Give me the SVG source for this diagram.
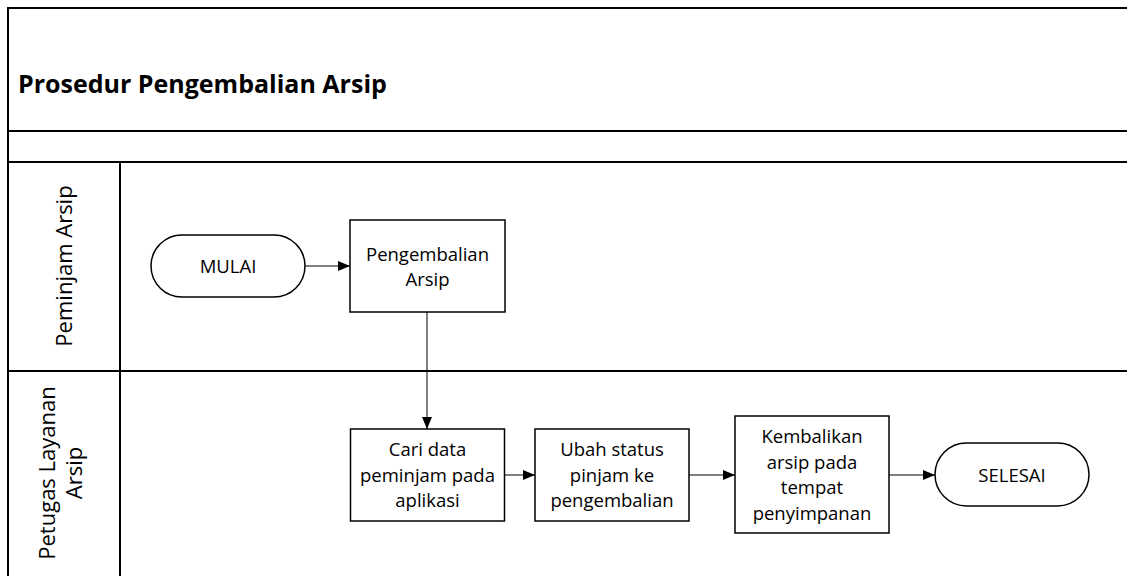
<svg xmlns="http://www.w3.org/2000/svg" width="1127" height="576" viewBox="0 0 1127 576">
<style>
.frame{stroke:#000;stroke-width:2;fill:none}
.shape{stroke:#000;stroke-width:1.5;fill:#fff}
.conn{stroke:#000;stroke-width:1;fill:none}
text{font-family:"Open Sans","Liberation Sans",sans-serif;fill:#000}
.lbl{font-size:18.5px;text-anchor:middle}
.lane{font-size:22px;text-anchor:middle}
.title{font-size:25px;font-weight:bold}
</style>
<defs>
<marker id="ah" viewBox="0 0 12 10" refX="12" refY="5" markerWidth="12" markerHeight="10" markerUnits="userSpaceOnUse" orient="auto">
<path d="M0,0 L12,5 L0,10 Z" fill="#000"/>
</marker>
</defs>
<rect width="1127" height="576" fill="#fff"/>
<g id="frame">
<path class="frame" d="M8,576 V8 H1127 M8,131 H1127 M8,162 H1127 M8,371 H1127 M120,162 V576"/>
<text class="title" x="18" y="93">Prosedur Pengembalian Arsip</text>
</g>
<g id="lane-peminjam">
<text class="lane" transform="translate(72,266) rotate(-90)">Peminjam Arsip</text>
</g>
<g id="lane-petugas">
<text class="lane" transform="translate(55,473) rotate(-90)">Petugas Layanan</text>
<text class="lane" transform="translate(82,473) rotate(-90)">Arsip</text>
</g>
<g id="mulai">
<rect class="shape" x="151" y="235" width="154" height="62" rx="31"/>
<text class="lbl" x="228" y="273">MULAI</text>
</g>
<g id="pengembalian">
<rect class="shape" x="350" y="220" width="155" height="92"/>
<text class="lbl" x="427.5" y="261">Pengembalian</text>
<text class="lbl" x="427.5" y="286">Arsip</text>
</g>
<g id="cari">
<rect class="shape" x="350.5" y="429" width="154" height="92"/>
<text class="lbl" x="427.5" y="456">Cari data</text>
<text class="lbl" x="427.5" y="481.5">peminjam pada</text>
<text class="lbl" x="427.5" y="507">aplikasi</text>
</g>
<g id="ubah">
<rect class="shape" x="535" y="429" width="154" height="92"/>
<text class="lbl" x="612" y="456">Ubah status</text>
<text class="lbl" x="612" y="481.5">pinjam ke</text>
<text class="lbl" x="612" y="507">pengembalian</text>
</g>
<g id="kembalikan">
<rect class="shape" x="735" y="416" width="154" height="117"/>
<text class="lbl" x="812" y="443">Kembalikan</text>
<text class="lbl" x="812" y="468.5">arsip pada</text>
<text class="lbl" x="812" y="494">tempat</text>
<text class="lbl" x="812" y="519.5">penyimpanan</text>
</g>
<g id="selesai">
<rect class="shape" x="935" y="443" width="154" height="63" rx="31.5"/>
<text class="lbl" x="1012" y="481.5">SELESAI</text>
</g>
<g id="connectors">
<path class="conn" d="M305,266 H350" marker-end="url(#ah)"/>
<path class="conn" d="M427,312 V429" marker-end="url(#ah)"/>
<path class="conn" d="M504.5,475 H535" marker-end="url(#ah)"/>
<path class="conn" d="M689,475 H735" marker-end="url(#ah)"/>
<path class="conn" d="M889,475 H935" marker-end="url(#ah)"/>
</g>
</svg>
